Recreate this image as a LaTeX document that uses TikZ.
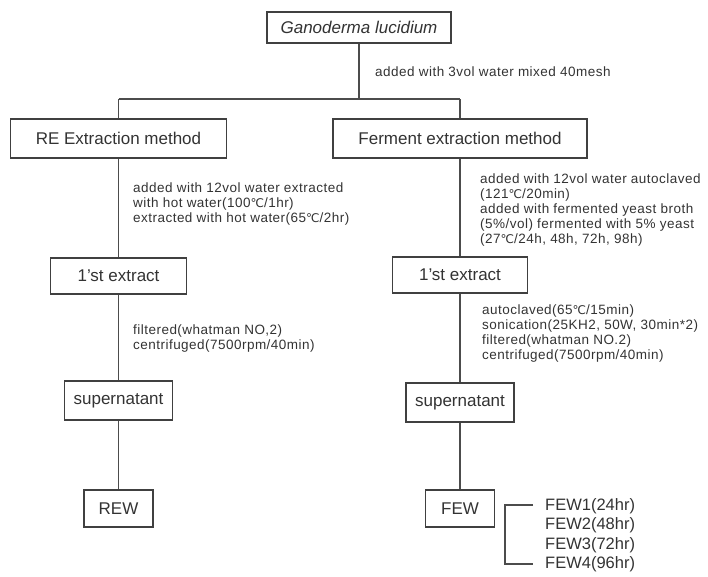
\documentclass[tikz,border=0pt]{standalone}
\usepackage{fontspec}
\setmainfont{Liberation Sans}
\newfontfamily\symfam{DejaVu Sans}
\newcommand{\degC}{{\symfam\fontsize{12}{12}\selectfont ℃}}
\begin{document}
\begin{tikzpicture}[x=1pt,y=-1pt,
  stagebox/.style={draw=black!75,line width=1.1pt,fill=white,inner sep=0pt,
    minimum height=38pt,font=\fontsize{17}{17}\selectfont,text=black!80},
  note/.style={anchor=west,align=left,inner sep=0pt,
    font=\fontsize{13.5}{15.2}\selectfont\addfontfeature{LetterSpace=3.5},text=black!80},
  flow/.style={draw=black!70,line width=1.2pt}]
\useasboundingbox (0,0) rectangle (708,576);

% top node and the two extraction routes
\node[stagebox,minimum width=184pt,minimum height=31pt,font=\fontsize{17}{17}\selectfont\itshape] (gan) at (359,27.5) {Ganoderma lucidium};
\node[stagebox,minimum width=216pt,minimum height=39pt] (re) at (118.5,138.5) {RE Extraction method};
\node[stagebox,minimum width=254pt,minimum height=39pt] (fe) at (460,138.5) {Ferment extraction method};

\node[stagebox,minimum width=136pt,minimum height=36pt] (ex1) at (118.5,276) {1'st extract};
\node[stagebox,minimum width=135pt,minimum height=36pt] (ex2) at (460,275) {1'st extract};

\node[stagebox,minimum width=108pt,minimum height=39pt] (sup1) at (118.5,400.5) {supernatant};
\node[stagebox,minimum width=108pt,minimum height=39pt] (sup2) at (460,402.5) {supernatant};

\node[stagebox,minimum width=69pt,minimum height=37pt] (rew) at (118.5,508.5) {REW};
\node[stagebox,minimum width=69pt,minimum height=37pt] (few) at (460,508.5) {FEW};

% split of the raw material into the two routes
\coordinate (split) at (359,99);
\coordinate (splitL) at (118.5,99);
\coordinate (splitR) at (460,99);
\draw[flow] (gan.south) -- (split);
\draw[flow] (splitL) -- (splitR);
\draw[flow] (splitL) -- (re.north);
\draw[flow] (splitR) -- (fe.north);

% route connectors
\draw[flow] (re) -- (ex1);
\draw[flow] (ex1) -- (sup1);
\draw[flow] (sup1) -- (rew);
\draw[flow] (fe) -- (ex2);
\draw[flow] (ex2) -- (sup2);
\draw[flow] (sup2) -- (few);

% process notes
\node[note] (n0) at (375,72) {added with 3vol water mixed 40mesh};
\node[note] (n1) at (133,204) {added with 12vol water extracted\\with hot water(100\degC/1hr)\\extracted with hot water(65\degC/2hr)};
\node[note] (n2) at (480,210) {added with 12vol water autoclaved\\(121\degC/20min)\\added with fermented yeast broth\\(5\%/vol) fermented with 5\% yeast\\(27\degC/24h, 48h, 72h, 98h)};
\node[note] (n3) at (133,338.5) {filtered(whatman NO,2)\\centrifuged(7500rpm/40min)};
\node[note] (n4) at (482,333.5) {autoclaved(65\degC/15min)\\sonication(25KH2, 50W, 30min*2)\\filtered(whatman NO.2)\\centrifuged(7500rpm/40min)};

% fermentation-time variants
\node[note,font=\fontsize{16.5}{19.5}\selectfont] (fw) at (545,535) {FEW1(24hr)\\FEW2(48hr)\\FEW3(72hr)\\FEW4(96hr)};
\coordinate (bt) at (505,505);
\coordinate (bb) at (505,564);
\draw[flow] (533,505) -- (bt) -- (bb) -- (533,564);
\end{tikzpicture}
\end{document}
